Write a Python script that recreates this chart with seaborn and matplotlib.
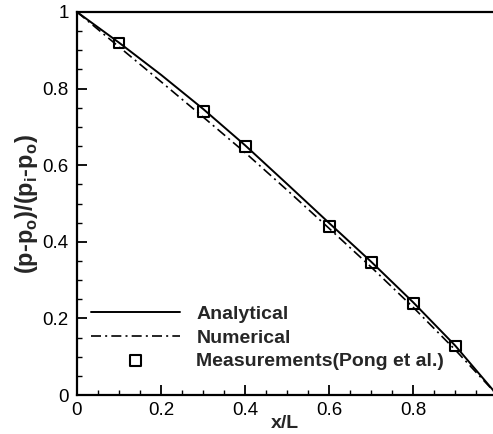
import numpy as np
import pandas as pd
import matplotlib
matplotlib.use("Agg")
import matplotlib.pyplot as plt
import seaborn as sns
from matplotlib.ticker import MultipleLocator

# ---- data ----
x_line = [0.0, 0.1, 0.2, 0.3, 0.4, 0.5, 0.6, 0.7, 0.8, 0.9, 1.0]
analytical = [1.0, 0.920, 0.836, 0.747, 0.652, 0.551, 0.449, 0.348, 0.242, 0.129, 0.0]
numerical = [1.0, 0.909, 0.818, 0.726, 0.633, 0.535, 0.435, 0.334, 0.229, 0.118, 0.0]
x_meas = [0.1, 0.3, 0.4, 0.6, 0.7, 0.8, 0.9]
y_meas = [0.919, 0.739, 0.648, 0.439, 0.347, 0.240, 0.128]
x_ticks = [0, 0.2, 0.4, 0.6, 0.8]
x_tick_labels = ["0", "0.2", "0.4", "0.6", "0.8"]
y_ticks = [0, 0.2, 0.4, 0.6, 0.8, 1.0]
y_tick_labels = ["0", "0.2", "0.4", "0.6", "0.8", "1"]

sns.set_theme(style="ticks")
plt.rcParams["font.family"] = ["Liberation Sans", "DejaVu Sans"]
plt.rcParams["mathtext.fontset"] = "custom"
plt.rcParams["mathtext.rm"] = "Liberation Sans"
plt.rcParams["mathtext.bf"] = "Liberation Sans:bold"

df_a = pd.DataFrame({"x": x_line, "y": analytical})
df_n = pd.DataFrame({"x": x_line, "y": numerical})
df_m = pd.DataFrame({"x": x_meas, "y": y_meas})

fig = plt.figure(figsize=(4.93, 4.34), dpi=100)
ax = fig.add_axes([77/493, 1 - 395/434, 1 - 77/493, (395 - 12)/434])

sns.lineplot(data=df_a, x="x", y="y", ax=ax, color="black", lw=1.4,
             label="Analytical", sort=False)
sns.lineplot(data=df_n, x="x", y="y", ax=ax, color="black", lw=1.2,
             label="Numerical", sort=False)
ax.lines[1].set_linestyle((0, (6, 2.5, 1.2, 2.5)))
sns.scatterplot(data=df_m, x="x", y="y", ax=ax, marker="s", s=62,
                facecolor="none", edgecolor="black", linewidth=1.5,
                label="Measurements(Pong et al.)", zorder=5)

ax.set_xlim(0, 0.99)
ax.set_ylim(0, 1)
ax.set_xticks(x_ticks)
ax.set_xticklabels(x_tick_labels)
ax.set_yticks(y_ticks)
ax.set_yticklabels(y_tick_labels)
ax.xaxis.set_minor_locator(MultipleLocator(0.05))
ax.yaxis.set_minor_locator(MultipleLocator(0.05))
ax.tick_params(which="major", direction="in", length=7, width=1.3,
               labelsize=13.5, colors="black")
ax.tick_params(which="minor", direction="in", length=3.6, width=1.0,
               colors="black")
ax.tick_params(axis="x", which="major", pad=5)
ax.tick_params(axis="y", which="major", pad=6)

for s in ["left", "bottom", "top"]:
    ax.spines[s].set_linewidth(1.6)
    ax.spines[s].set_color("black")
ax.spines["right"].set_visible(False)

ax.set_xlabel("x/L", fontsize=14, fontweight="bold", labelpad=-3)
ax.set_ylabel(r"(p-p$_\mathbf{o}$)/(p$_\mathbf{i}$-p$_\mathbf{o}$)",
              fontsize=17, fontweight="bold", labelpad=2)

leg = ax.legend(loc="lower left", bbox_to_anchor=(0.015, 0.045), frameon=False,
                handlelength=4.6, handletextpad=0.82, labelspacing=0.3,
                prop={"weight": "bold", "size": 14}, borderaxespad=0)

fig.savefig("out.png", dpi=100)
